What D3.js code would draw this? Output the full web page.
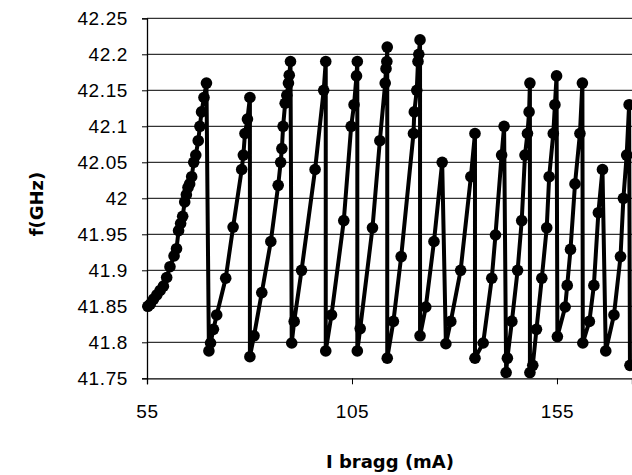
<!DOCTYPE html>
<html>
<head>
<meta charset="utf-8">
<script src="https://cdn.jsdelivr.net/npm/d3@7"></script>
<style>
  body { margin: 0; background: #fff; }
  svg { display: block; font-family: Lato, "DejaVu Sans", sans-serif; }
</style>
</head>
<body>
<div id="app"></div>
<script>
const current = [
  55.2, 55.8, 56.6, 57.4, 58.2, 59.0, 59.8, 60.6, 61.6, 62.2, 62.7, 63.2, 63.7, 64.2, 64.6, 65.0, 65.4, 65.9, 66.4, 66.9, 67.5, 67.9, 68.3, 68.9, 69.5,
  70.1, 70.5, 71.2, 72.0, 74.2, 76.0, 78.1, 78.5, 78.9, 79.5, 80.1,
  80.1, 81.1, 83.0, 85.2, 87.0, 87.6, 87.9, 88.2, 88.7, 89.1, 89.5, 89.7, 90.0,
  90.3, 90.9, 92.7, 96.0, 98.1, 98.6,
  98.6, 100.0, 103.0, 104.8, 105.5, 106.1, 106.3,
  106.3, 107.0, 110.0, 111.8, 113.1, 113.3, 113.5, 113.6,
  113.6, 115.1, 117.0, 120.0, 120.2, 120.8, 121.1, 121.3, 121.6,
  121.6, 123.0, 125.0, 127.0,
  127.9, 129.1, 131.5, 134.0, 135.0,
  135.0, 137.0, 139.1, 140.0, 141.5, 142.1,
  142.6, 142.9, 144.0, 145.4, 146.4, 147.2, 147.8, 148.2, 148.4,
  148.4, 149.1, 150.0, 151.3, 152.5, 153.1, 154.1, 154.5, 154.9,
  155.1, 157.0, 157.5, 158.3, 159.4, 160.6, 161.2,
  161.3, 162.9, 164.0, 165.1, 166.1,
  166.9, 168.9, 170.5, 171.2, 172.0, 172.6,
  172.8
];
const freq = [
  41.85, 41.853, 41.86, 41.866, 41.872, 41.878, 41.89, 41.905, 41.92, 41.93, 41.955, 41.965, 41.975, 41.995, 42.005, 42.015, 42.02, 42.03, 42.05, 42.06, 42.08, 42.10, 42.12, 42.14, 42.16,
  41.788, 41.799, 41.818, 41.838, 41.889, 41.96, 42.04, 42.06, 42.09, 42.11, 42.14,
  41.78, 41.809, 41.869, 41.94, 42.018, 42.05, 42.069, 42.10, 42.132, 42.143, 42.16, 42.171, 42.19,
  41.799, 41.829, 41.90, 42.04, 42.15, 42.19,
  41.788, 41.838, 41.969, 42.10, 42.13, 42.17, 42.19,
  41.788, 41.819, 41.959, 42.08, 42.16, 42.18, 42.19, 42.21,
  41.778, 41.829, 41.919, 42.09, 42.12, 42.15, 42.19, 42.20, 42.22,
  41.809, 41.849, 41.94, 42.05,
  41.798, 41.829, 41.90, 42.03, 42.09,
  41.778, 41.799, 41.889, 41.949, 42.06, 42.10,
  41.758, 41.778, 41.829, 41.90, 41.969, 42.06, 42.09, 42.12, 42.16,
  41.758, 41.768, 41.818, 41.889, 41.959, 42.03, 42.09, 42.13, 42.17,
  41.808, 41.849, 41.879, 41.929, 42.02, 42.09, 42.16,
  41.799, 41.829, 41.879, 41.98, 42.04,
  41.788, 41.838, 41.919, 42.00, 42.06, 42.13,
  41.768
];
const xTicks = [55, 105, 155];
const yTicks = [41.75, 41.8, 41.85, 41.9, 41.95, 42, 42.05, 42.1, 42.15, 42.2, 42.25];

const width = 632;
const height = 475;
const plotLeft = 147, plotRight = 632, plotTop = 18.3, plotBottom = 378.3;

const svg = d3.select('#app')
  .append('svg')
  .attr('width', width)
  .attr('height', height);

const x = d3.scaleLinear().domain([55, 173.3]).range([plotLeft, plotRight]);
const y = d3.scaleLinear().domain([41.75, 42.25]).range([plotBottom, plotTop]);

// horizontal gridlines
svg.append('g')
  .selectAll('line')
  .data(yTicks.slice(1))
  .enter()
  .append('line')
  .attr('x1', plotLeft)
  .attr('x2', plotRight)
  .attr('y1', d => y(d))
  .attr('y2', d => y(d))
  .attr('stroke', '#000')
  .attr('stroke-width', 1);

const axisY = d3.axisLeft(y)
  .tickValues(yTicks)
  .tickFormat(d => String(+d.toFixed(2)))
  .tickSize(5)
  .tickPadding(14);
svg.append('g')
  .attr('transform', `translate(${plotLeft}, 0)`)
  .call(axisY)
  .call(g => g.select('.domain').attr('stroke', '#000').attr('stroke-width', 1.3))
  .call(g => g.selectAll('.tick line').attr('stroke', '#000'))
  .call(g => g.selectAll('text')
    .attr('font-size', 19)
    .attr('letter-spacing', 0.6)
    .attr('fill', '#000'));

const axisX = d3.axisBottom(x)
  .tickValues(xTicks)
  .tickSize(6)
  .tickPadding(20);
svg.append('g')
  .attr('transform', `translate(0, ${plotBottom})`)
  .call(axisX)
  .call(g => g.select('.domain').attr('stroke', '#000').attr('stroke-width', 1.3))
  .call(g => g.selectAll('.tick line').attr('stroke', '#000'))
  .call(g => g.selectAll('text')
    .attr('font-size', 19)
    .attr('letter-spacing', 0.6)
    .attr('fill', '#000'));

const points = current.map((c, i) => [c, freq[i]]);

const line = d3.line()
  .x(d => x(d[0]))
  .y(d => y(d[1]));

svg.append('path')
  .datum(points)
  .attr('fill', 'none')
  .attr('stroke', '#000')
  .attr('stroke-width', 4)
  .attr('stroke-linejoin', 'round')
  .attr('d', line);

svg.append('g')
  .selectAll('circle')
  .data(points)
  .enter()
  .append('circle')
  .attr('cx', d => x(d[0]))
  .attr('cy', d => y(d[1]))
  .attr('r', 5.8)
  .attr('fill', '#000');

// axis titles
svg.append('text')
  .attr('x', 390)
  .attr('y', 468)
  .attr('text-anchor', 'middle')
  .attr('font-family', '"DejaVu Sans", sans-serif')
  .attr('font-size', 18)
  .attr('font-weight', 'bold')
  .text('I bragg (mA)');

svg.append('text')
  .attr('transform', 'translate(43, 204) rotate(-90)')
  .attr('text-anchor', 'middle')
  .attr('font-family', '"DejaVu Sans", sans-serif')
  .attr('font-size', 18)
  .attr('font-weight', 'bold')
  .text('f(GHz)');
</script>
</body>
</html>
